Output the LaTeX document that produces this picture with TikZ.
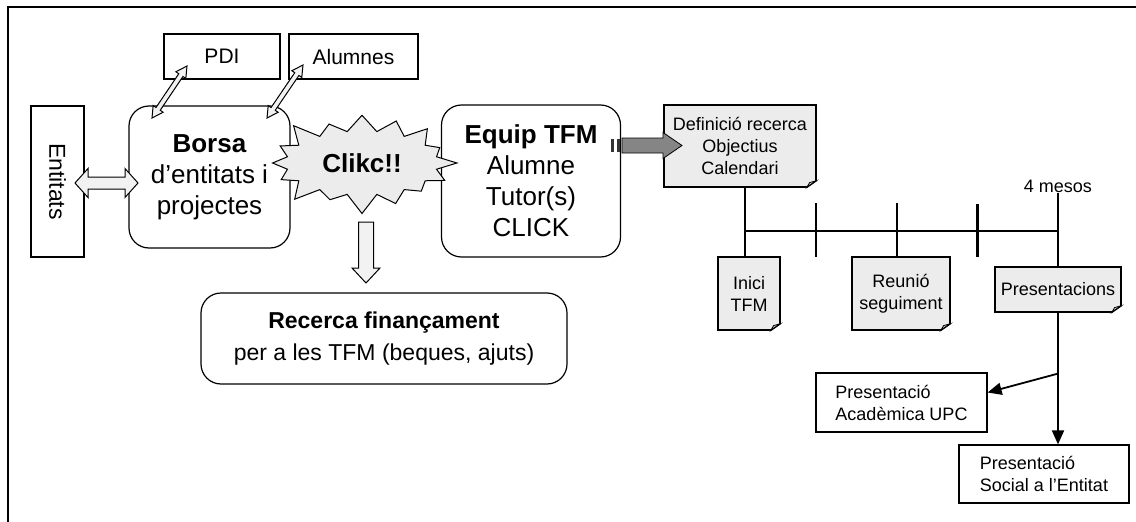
\documentclass[tikz,border=0pt]{standalone}
\usepackage{fontspec}
\usepackage{graphicx}
\setmainfont{Liberation Sans}
\usetikzlibrary{shapes.symbols,arrows.meta,calc}

\newcommand{\fsbig}{\fontsize{26}{31}\selectfont}
\newcommand{\fsmid}{\fontsize{23}{32}\selectfont}
\newcommand{\fspdi}{\fontsize{21}{25}\selectfont}
\newcommand{\fsent}{\fontsize{23}{27}\selectfont}
\newcommand{\fssmall}{\fontsize{18}{22}\selectfont}

\tikzset{
  box/.style={draw, line width=1.2pt, inner sep=0pt, align=center},
  roundbox/.style={box, rounded corners=20pt},
  note/.style={box, fill=gray!15},
  hollow/.style={draw, line width=1pt, fill=gray!10},
  darkarrow/.style={draw, line width=0.8pt, fill=black!48},
  tl/.style={line width=1.5pt},
  ptr/.style={line width=1.8pt, -{Triangle[length=14pt,width=12pt]}},
}

% fat double arrow: from, to, half shaft, half head, head length
\newcommand{\dblarrow}[6][hollow]{%
  \filldraw[#1] (#2) -- ($(#2)!#6!(#3)!#5!90:(#3)$) -- ($(#2)!#6!(#3)!#4!90:(#3)$)
    -- ($(#3)!#6!(#2)!#4!-90:(#2)$) -- ($(#3)!#6!(#2)!#5!-90:(#2)$) -- (#3)
    -- ($(#3)!#6!(#2)!#5!90:(#2)$) -- ($(#3)!#6!(#2)!#4!90:(#2)$)
    -- ($(#2)!#6!(#3)!#4!-90:(#3)$) -- ($(#2)!#6!(#3)!#5!-90:(#3)$) -- cycle;}
% fat single arrow: from, to, half shaft, half head, head length
\newcommand{\sglarrow}[6][hollow]{%
  \filldraw[#1] ($(#2)!#4!90:(#3)$) -- ($(#3)!#6!(#2)!#4!-90:(#2)$)
    -- ($(#3)!#6!(#2)!#5!-90:(#2)$) -- (#3) -- ($(#3)!#6!(#2)!#5!90:(#2)$)
    -- ($(#3)!#6!(#2)!#4!90:(#2)$) -- ($(#2)!#4!-90:(#3)$) -- cycle;}
% dog-ear on a note
\newcommand{\foldcorner}[1]{%
  \fill[white] ([xshift=1pt,yshift=8pt]#1.south east) -- ([xshift=1pt,yshift=-1pt]#1.south east)
    -- ([xshift=-12pt,yshift=-1pt]#1.south east) -- cycle;
  \filldraw[fill=gray!35, line width=0.8pt] ([yshift=7pt]#1.south east) -- ([xshift=-10pt]#1.south east)
    -- ([xshift=-7pt,yshift=5pt]#1.south east) -- cycle;
  \draw[line width=1.2pt] ([yshift=7pt]#1.south east) -- ([xshift=-10pt]#1.south east);}

\begin{document}
\begin{tikzpicture}[x=1pt,y=-1pt]
  \useasboundingbox (0,0) rectangle (1136,522);
  % frame
  \draw[line width=1.5pt] (8,522) -- (8,7) -- (1136,7);

  % left part
  \node[box, minimum width=53pt, minimum height=151pt] (ent) at (57.5,181.5) {\rotatebox{-90}{\fsent Entitats}};
  \node[box, minimum width=116pt, minimum height=45pt, font=\fspdi] (pdi) at (222,56.5) {PDI};
  \node[box, minimum width=129pt, minimum height=45pt, font=\fspdi] (alu) at (353.5,56.5) {Alumnes};
  \node[roundbox, minimum width=161pt, minimum height=142pt, font=\fsbig] (borsa) at (209.5,177) {\textbf{Borsa}\\d’entitats i\\projectes};
  \node[roundbox, minimum width=179pt, minimum height=152pt, font=\fsbig] (equip) at (531,181) {\textbf{Equip TFM}\\Alumne\\Tutor(s)\\CLICK};
  \node[roundbox, minimum width=366pt, minimum height=91pt, font=\fsmid] (rec) at (384,338.5) {\textbf{Recerca finançament}\\per a les TFM (beques, ajuts)};
  \node[starburst, draw, line width=1pt, fill=gray!15, starburst points=16, starburst point height=22pt,
    minimum width=196pt, minimum height=108pt, inner sep=0pt, font=\fsbig\bfseries] (click) at (362,163) {Clikc!!};

  % block arrows
  \coordinate (ea1) at (75,183);
  \coordinate (ea2) at (138,183);
  \dblarrow{ea1}{ea2}{6pt}{14.5pt}{13pt}
  \coordinate (pa1) at (152,118);
  \coordinate (pa2) at (187,66);
  \dblarrow{pa1}{pa2}{2.5pt}{6pt}{11pt}
  \coordinate (aa1) at (267,118);
  \coordinate (aa2) at (303,65);
  \dblarrow{aa1}{aa2}{2.5pt}{6pt}{11pt}
  \coordinate (da1) at (366,222);
  \coordinate (da2) at (366,283);
  \sglarrow{da1}{da2}{7.5pt}{14pt}{15pt}

  % notes
  \node[note, minimum width=152pt, minimum height=82pt, font=\fssmall] (def) at (740,146) {Definició recerca\\Objectius\\Calendari};
  \node[note, minimum width=62pt, minimum height=73pt, font=\fssmall] (inici) at (749,293.5) {Inici\\TFM};
  \node[note, minimum width=98pt, minimum height=73pt, font=\fssmall] (reunio) at (901,293.5) {Reunió\\seguiment};
  \node[note, minimum width=126pt, minimum height=45pt, font=\fssmall] (pres) at (1058,289.5) {Presentacions};
  \foreach \n in {def,inici,reunio,pres} {\foldcorner{\n}}
  \node[box, minimum width=171pt, minimum height=59pt, font=\fssmall, align=left] (aca) at (901.5,402.5) {Presentació\\Acadèmica UPC};
  \node[box, minimum width=170pt, minimum height=58pt, font=\fssmall, align=left] (soc) at (1044,474) {Presentació\\Social a l’Entitat};

  % equip -> definicio
  \coordinate (ga1) at (622,145.5);
  \coordinate (ga2) at (682,145.5);
  \sglarrow[darkarrow]{ga1}{ga2}{7.5pt}{13pt}{19pt}
  \fill[black!80] (611,139) rectangle (614,152);
  \fill[black!80] (616.5,139) rectangle (619.5,152);

  % timeline
  \node[font=\fssmall, inner sep=1pt] (mesos) at (1058,186) {4 mesos};
  \coordinate (t0) at (745,231);
  \coordinate (t2) at (897,231);
  \coordinate (t4) at (1058,231);
  \draw[tl] (t0 |- def.south) -- (t0 |- inici.north);
  \draw[tl] (t0) -- (t4);
  \draw[tl] (816,203) -- (816,257);
  \draw[tl] (t2) ++(0,-28) -- (t2 |- reunio.north);
  \draw[line width=3pt] (977,204) -- (977,257);
  \draw[tl] (mesos.south) -- (t4 |- pres.north);

  % presentations
  \coordinate (br) at ($(pres.south)+(0,61)$);
  \draw[ptr] (pres.south) -- (pres.south |- soc.north);
  \draw[ptr] (br) -- ([yshift=10pt]aca.east);
\end{tikzpicture}
\end{document}
